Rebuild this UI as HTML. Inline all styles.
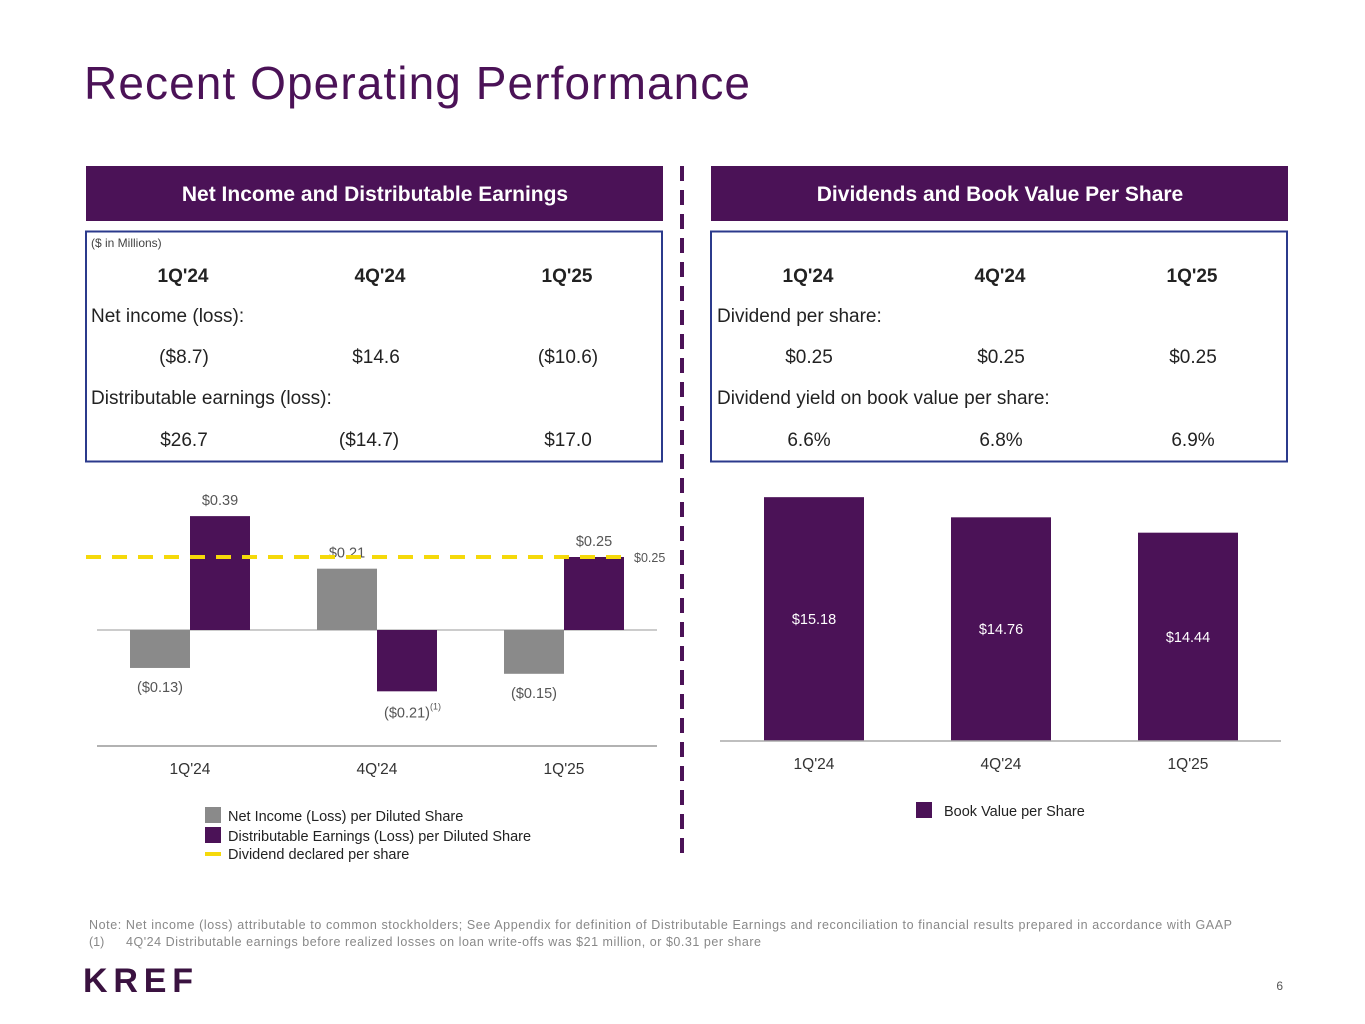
<!DOCTYPE html>
<html><head><meta charset="utf-8"><style>
html,body{margin:0;padding:0;background:#fff;}
svg{display:block;font-family:"Liberation Sans",sans-serif;}
</style></head><body>
<svg id="page" width="1365" height="1024" viewBox="0 0 1365 1024" xmlns="http://www.w3.org/2000/svg">
<text x="84" y="99" font-size="46" fill="#4b1257" textLength="666" lengthAdjust="spacing">Recent Operating Performance</text>

<line x1="682" y1="166" x2="682" y2="862" stroke="#4b1257" stroke-width="4" stroke-dasharray="15,9"/>

<rect x="86" y="166" width="577" height="55" fill="#4b1257"/>
<text x="375" y="201" font-size="21" font-weight="bold" fill="#fff" text-anchor="middle">Net Income and Distributable Earnings</text>
<rect x="86" y="231.5" width="576" height="230" fill="none" stroke="#2b3a8c" stroke-width="2"/>
<text x="91" y="247" font-size="12" fill="#444">($ in Millions)</text>
<g font-size="19" fill="#222" text-anchor="middle">
<text x="183" y="282" font-weight="bold">1Q'24</text><text x="380" y="282" font-weight="bold">4Q'24</text><text x="567" y="282" font-weight="bold">1Q'25</text>
<text x="91" y="322" text-anchor="start">Net income (loss):</text>
<text x="184" y="363">($8.7)</text><text x="376" y="363">$14.6</text><text x="568" y="363">($10.6)</text>
<text x="91" y="404" text-anchor="start">Distributable earnings (loss):</text>
<text x="184" y="446">$26.7</text><text x="369" y="446">($14.7)</text><text x="568" y="446">$17.0</text>
</g>

<rect x="711" y="166" width="577" height="55" fill="#4b1257"/>
<text x="1000" y="201" font-size="21" font-weight="bold" fill="#fff" text-anchor="middle">Dividends and Book Value Per Share</text>
<rect x="711" y="231.5" width="576" height="230" fill="none" stroke="#2b3a8c" stroke-width="2"/>
<g font-size="19" fill="#222" text-anchor="middle">
<text x="808" y="282" font-weight="bold">1Q'24</text><text x="1000" y="282" font-weight="bold">4Q'24</text><text x="1192" y="282" font-weight="bold">1Q'25</text>
<text x="717" y="322" text-anchor="start">Dividend per share:</text>
<text x="809" y="363">$0.25</text><text x="1001" y="363">$0.25</text><text x="1193" y="363">$0.25</text>
<text x="717" y="404" text-anchor="start">Dividend yield on book value per share:</text>
<text x="809" y="446">6.6%</text><text x="1001" y="446">6.8%</text><text x="1193" y="446">6.9%</text>
</g>

<g id="leftChart"></g>
<g id="rightChart"></g>

<g font-size="14.5" fill="#222">
<rect x="205" y="807" width="16" height="16" fill="#8a8a8a"/><text x="228" y="821">Net Income (Loss) per Diluted Share</text>
<rect x="205" y="827" width="16" height="16" fill="#4b1257"/><text x="228" y="841">Distributable Earnings (Loss) per Diluted Share</text>
<rect x="205" y="852" width="16" height="4" fill="#f5d90a"/><text x="228" y="859">Dividend declared per share</text>
</g>
<g font-size="14.5" fill="#222">
<rect x="916" y="802" width="16" height="16" fill="#4b1257"/><text x="944" y="816">Book Value per Share</text>
</g>

<text x="89" y="929" font-size="12.5" fill="#888" textLength="1143" lengthAdjust="spacing">Note: Net income (loss) attributable to common stockholders; See Appendix for definition of Distributable Earnings  and reconciliation to financial results prepared in accordance with GAAP</text>
<text x="89" y="946" font-size="12.5" fill="#888">(1)</text>
<text x="126" y="946" font-size="12.5" fill="#888" textLength="635" lengthAdjust="spacing">4Q'24 Distributable earnings before realized losses on loan write-offs was $21 million, or $0.31 per share</text>
<text x="83" y="992" font-size="34" font-weight="bold" fill="#3a1240" textLength="110" lengthAdjust="spacing">KREF</text>
<text x="1283" y="990" font-size="12" fill="#555" text-anchor="end">6</text>
</svg>
<script>
const categories = ["1Q'24", "4Q'24", "1Q'25"];
const netIncome = [-0.13, 0.21, -0.15];
const distEarnings = [0.39, -0.21, 0.25];
const dividend = 0.25;
const niLabels = ["($0.13)", "$0.21", "($0.15)"];
const deLabels = ["$0.39", "($0.21)", "$0.25"];
const bookValue = [15.18, 14.76, 14.44];
const bvLabels = ["$15.18", "$14.76", "$14.44"];

const NS = "http://www.w3.org/2000/svg";
function mk(parent, tag, attrs, text) {
  const e = document.createElementNS(NS, tag);
  for (const k in attrs) e.setAttribute(k, attrs[k]);
  if (text !== undefined) e.textContent = text;
  parent.appendChild(e);
  return e;
}

const zeroY = 630, pxPerUnit = 292;
function yL(v) { return zeroY - v * pxPerUnit; }
function xL(i) { return 190 + i * 187; }
const bw = 60;
const lc = document.getElementById('leftChart');
let zl = mk(lc, 'line', {x1: 97, x2: 657, y1: zeroY, y2: zeroY, stroke: '#bbb', 'stroke-width': 1.5});


let al = mk(lc, 'line', {x1: 97, x2: 657, y1: 746, y2: 746, stroke: '#999', 'stroke-width': 1.5});


categories.forEach((c, i) => {
  const cx = xL(i);
  const v1 = netIncome[i], v2 = distEarnings[i];
  let r1 = mk(lc, 'rect', {x: cx - bw, y: Math.min(yL(v1), zeroY), width: bw, height: Math.abs(yL(v1) - zeroY), fill: '#8a8a8a'});
  
  
  let r2 = mk(lc, 'rect', {x: cx, y: Math.min(yL(v2), zeroY), width: bw, height: Math.abs(yL(v2) - zeroY), fill: '#4b1257'});
  
  
  const l1y = v1 >= 0 ? yL(v1) - 11 : yL(v1) + 24;
  let t1 = mk(lc, 'text', {x: cx - bw / 2, y: l1y, 'font-size': 14.5, fill: '#555', 'text-anchor': 'middle'}, niLabels[i]);
  
  
  const l2y = v2 >= 0 ? yL(v2) - 11 : yL(v2) + 26;
  let t2 = mk(lc, 'text', {x: cx + bw / 2, y: l2y, 'font-size': 14.5, fill: '#555', 'text-anchor': 'middle'}, deLabels[i]);
  
  
  if (v2 < 0) {
    let sup = mk(lc, 'text', {x: cx + bw / 2 + 23, y: l2y - 8, 'font-size': 9, fill: '#555'}, '(1)');
    
    
  }
  let xt = mk(lc, 'text', {x: cx, y: 774, 'font-size': 15.5, fill: '#333', 'text-anchor': 'middle'}, c);
  
  
});
let dl = mk(lc, 'line', {x1: 86, x2: 632, y1: yL(dividend), y2: yL(dividend), stroke: '#f5d90a', 'stroke-width': 4, 'stroke-dasharray': '15,11'});


let dt = mk(lc, 'text', {x: 634, y: yL(dividend) + 5, 'font-size': 12.5, fill: '#555'}, '$' + dividend.toFixed(2));



const baseY = 741, bvMin = 10.1, bvPx = 48;
function yR(v) { return baseY - (v - bvMin) * bvPx; }
function xR(i) { return 814 + i * 187; }
const rc = document.getElementById('rightChart');
categories.forEach((c, i) => {
  const cx = xR(i), top = yR(bookValue[i]);
  let r = mk(rc, 'rect', {x: cx - 50, y: top, width: 100, height: baseY - top, fill: '#4b1257'});
  
  
  let t = mk(rc, 'text', {x: cx, y: (top + baseY) / 2 + 5, 'font-size': 14.5, fill: '#fff', 'text-anchor': 'middle'}, bvLabels[i]);
  
  
  let xt = mk(rc, 'text', {x: cx, y: 769, 'font-size': 15.5, fill: '#333', 'text-anchor': 'middle'}, c);
  
  
});
let ar = mk(rc, 'line', {x1: 720, x2: 1281, y1: baseY, y2: baseY, stroke: '#aaa', 'stroke-width': 1.5});


</script>
</body></html>
